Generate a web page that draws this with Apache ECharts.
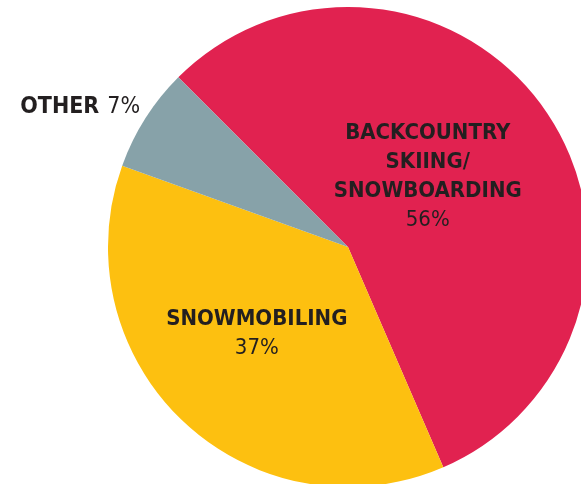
<!DOCTYPE html>
<html>
<head>
<meta charset="utf-8">
<script src="https://cdn.jsdelivr.net/npm/echarts@6/dist/echarts.min.js"></script>
<style>
html,body{margin:0;padding:0;background:#fff;}
#c{width:581px;height:484px;}
</style>
</head>
<body>
<div id="c"></div>
<script>
const categories = ['BACKCOUNTRY\nSKIING/\nSNOWBOARDING', 'SNOWMOBILING', 'OTHER'];
const values = [56, 37, 7];
const colors = ['#E12250', '#FDC010', '#87A2A9'];
const labelOffsets = [[-22, -1], [-7, -3], [-164, -74]];

const chart = echarts.init(document.getElementById('c'), null, {renderer: 'canvas'});
const rich = {
  b: {fontFamily: 'DejaVu Sans Condensed', fontWeight: 'bold', fontSize: 22, color: '#231F20', lineHeight: 29, align: 'center'},
  p: {fontFamily: 'DejaVu Sans Condensed', fontWeight: 'normal', fontSize: 22, color: '#231F20', lineHeight: 29, align: 'center'},
  ob: {fontFamily: 'DejaVu Sans Condensed', fontWeight: 'bold', fontSize: 23, color: '#231F20', lineHeight: 29},
  op: {fontFamily: 'DejaVu Sans Condensed', fontWeight: 'normal', fontSize: 23, color: '#231F20', lineHeight: 29, padding: [0, 0, 0, 8]}
};
chart.setOption({
  animation: false,
  series: [{
    type: 'pie',
    center: [348, 247],
    radius: [0, 240],
    startAngle: 135,
    clockwise: true,
    avoidLabelOverlap: false,
    itemStyle: {borderWidth: 0},
    labelLine: {show: false},
    data: categories.map((name, i) => ({
      name: name,
      value: values[i],
      itemStyle: {color: colors[i]},
      label: {
        show: true,
        position: 'inside',
        offset: labelOffsets[i],
        formatter: i === 2 ? '{ob|{b}}{op|{c}%}' : '{b|{b}}\n{p|{c}%}',
        rich: rich
      }
    }))
  }]
});
</script>
</body>
</html>
